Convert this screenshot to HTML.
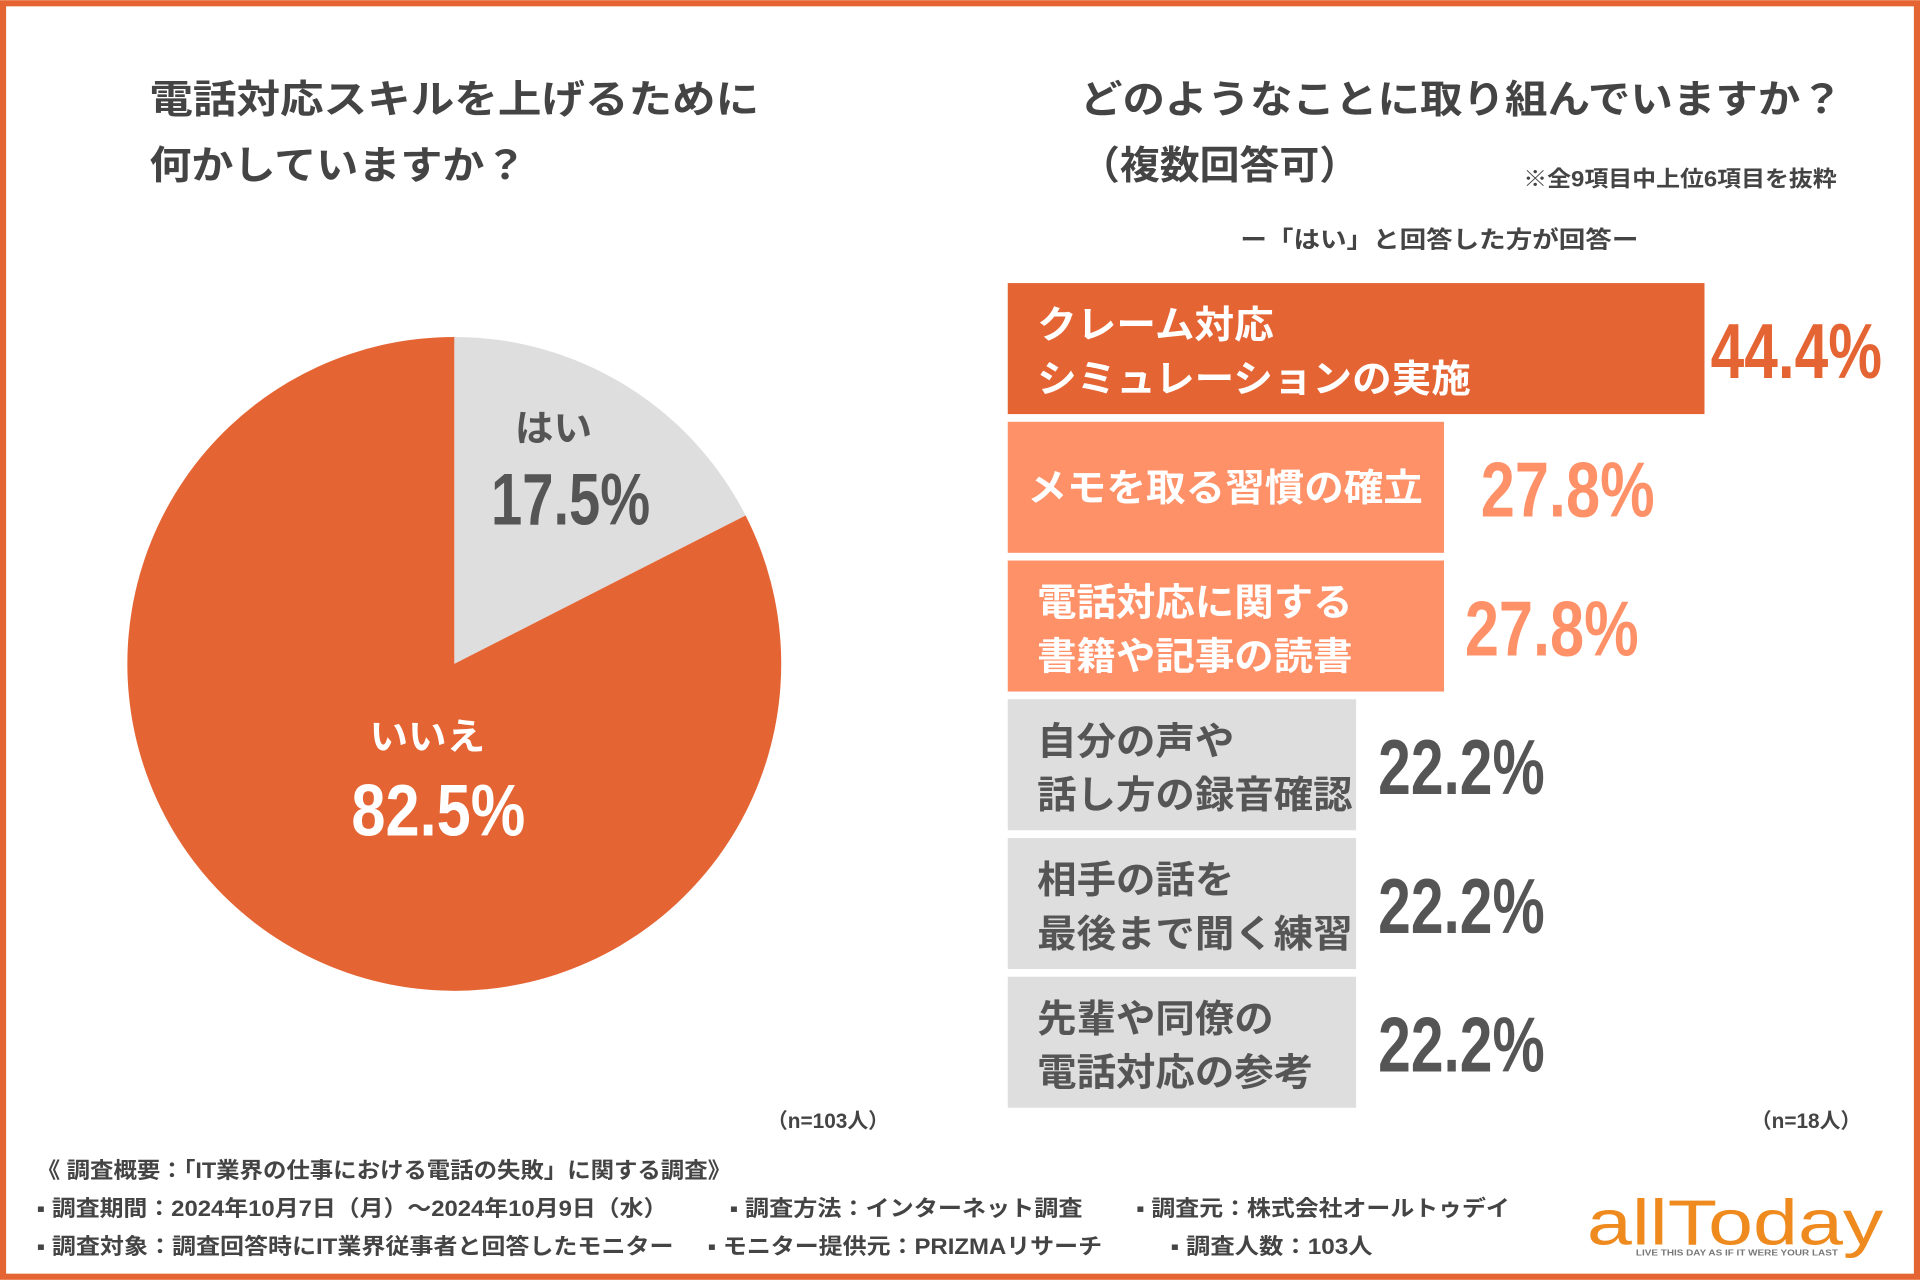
<!DOCTYPE html>
<html><head><meta charset="utf-8">
<style>
html,body{margin:0;padding:0;background:#fff;}
svg{display:block;}
text{font-family:"Liberation Sans","Noto Sans CJK JP",sans-serif;font-weight:bold;}
</style></head>
<body>
<svg id="chart" width="1920" height="1280" viewBox="0 0 1568 1045" xmlns="http://www.w3.org/2000/svg">
<rect x="2.5" y="2.5" width="1563" height="1040" fill="#fff" stroke="#E56433" stroke-width="5"/>
<g fill="#444" font-size="32">
<text x="122" y="92" textLength="498" lengthAdjust="spacingAndGlyphs">電話対応スキルを上げるために</text>
<text x="122" y="146" textLength="308" lengthAdjust="spacingAndGlyphs">何かしていますか？</text>
</g>
<g fill="#444" font-size="32">
<text x="882" y="92" textLength="623" lengthAdjust="spacingAndGlyphs">どのようなことに取り組んでいますか？</text>
<text x="882" y="146" textLength="228" lengthAdjust="spacingAndGlyphs">（複数回答可）</text>
</g>
<text x="1244" y="152" font-size="18" fill="#444" textLength="256" lengthAdjust="spacingAndGlyphs">※全9項目中上位6項目を抜粋</text>
<text x="1013" y="202" font-size="19" fill="#444" textLength="325" lengthAdjust="spacingAndGlyphs">ー「はい」と回答した方が回答ー</text>
<g id="pie"></g>
<g id="bars"></g>
<text x="726" y="921" font-size="17" fill="#444" text-anchor="end">（n=103人）</text>
<text x="1520" y="921" font-size="17" fill="#444" text-anchor="end">（n=18人）</text>
<g fill="#444" font-size="18">
<text x="30" y="962" textLength="567" lengthAdjust="spacingAndGlyphs">《 調査概要：「IT業界の仕事における電話の失敗」に関する調査》</text>
<text x="30" y="993" textLength="515" lengthAdjust="spacingAndGlyphs">▪ 調査期間：2024年10月7日（月）～2024年10月9日（水）</text>
<text x="596" y="993" textLength="288" lengthAdjust="spacingAndGlyphs">▪ 調査方法：インターネット調査</text>
<text x="928" y="993" textLength="305" lengthAdjust="spacingAndGlyphs">▪ 調査元：株式会社オールトゥデイ</text>
<text x="30" y="1024" textLength="520" lengthAdjust="spacingAndGlyphs">▪ 調査対象：調査回答時にIT業界従事者と回答したモニター</text>
<text x="578" y="1024" textLength="322" lengthAdjust="spacingAndGlyphs">▪ モニター提供元：PRIZMAリサーチ</text>
<text x="956" y="1024" textLength="165" lengthAdjust="spacingAndGlyphs">▪ 調査人数：103人</text>
</g>
<g>
<text x="1296" y="1016" font-size="52" fill="#EE8A1E" textLength="242" lengthAdjust="spacingAndGlyphs" style="font-weight:normal">allToday</text>
<text x="1336" y="1025" font-size="7" fill="#777" textLength="165" lengthAdjust="spacingAndGlyphs">LIVE THIS DAY AS IF IT WERE YOUR LAST</text>
</g>
</svg>
<script>
const pieLabels=["はい","いいえ"];
const pieValues=[17.5,82.5];
const barLabels=[["クレーム対応","シミュレーションの実施"],["メモを取る習慣の確立"],["電話対応に関する","書籍や記事の読書"],["自分の声や","話し方の録音確認"],["相手の話を","最後まで聞く練習"],["先輩や同僚の","電話対応の参考"]];
const barValues=[44.4,27.8,27.8,22.2,22.2,22.2];

const NS="http://www.w3.org/2000/svg";
function mk(tag,attrs,parent){const e=document.createElementNS(NS,tag);for(const k in attrs)e.setAttribute(k,attrs[k]);parent.appendChild(e);return e;}
const charW=32.2;

// pie
const pie=document.getElementById('pie');
const cx=371,cy=542,r=267;
const pieColors=["#DEDEDE","#E56433"];
const total=pieValues.reduce((a,b)=>a+b,0);
function pt(a,rr){return [cx+rr*Math.sin(a),cy-rr*Math.cos(a)];}
let a0=0;
pieValues.forEach((v,i)=>{
  const a1=a0+v/total*2*Math.PI;
  const p0=pt(a0,r),p1=pt(a1,r);
  const large=(a1-a0)>Math.PI?1:0;
  const s=mk('path',{d:`M${cx},${cy} L${p0[0]},${p0[1]} A${r},${r} 0 ${large} 1 ${p1[0]},${p1[1]} Z`,fill:pieColors[i]},pie);
  
  
  a0=a1;
});
const lblPos=[[466,360,418,452],[358,612,672,349]];
pieValues.forEach((v,i)=>{
  const col=i===0?"#555":"#fff";
  const t1=mk('text',{x:lblPos[i][3],y:lblPos[i][1],'font-size':30,fill:col,'text-anchor':'middle',textLength:pieLabels[i].length*31.5,lengthAdjust:'spacingAndGlyphs'},pie);
  t1.textContent=pieLabels[i];
  
  
  const t2=mk('text',{x:lblPos[i][0],y:lblPos[i][2]+10,'font-size':60,fill:col,'text-anchor':'middle',textLength:i===0?130:142,lengthAdjust:'spacingAndGlyphs'},pie);
  t2.textContent=v.toFixed(1)+'%';
  
  
});

// bars
const bars=document.getElementById('bars');
const bx=823,by0=231,step=113.3,bh=107;
const pxPer=569/44.4;
function xScale(v){return v*pxPer;}
barValues.forEach((v,i)=>{
  const y=by0+i*step;
  const w=xScale(v);
  const fill=i===0?"#E56433":(i<3?"#FF9168":"#DEDEDE");
  const tcol=i<3?"#fff":"#555";
  const vcol=i===0?"#E56433":(i<3?"#FF9168":"#555");
  const b=mk('rect',{x:bx,y:y,width:w,height:bh,fill:fill},bars);
  
  
  const lines=barLabels[i];
  lines.forEach((ln,j)=>{
    const yy=lines.length===1?y+bh/2+11:y+45+j*44;
    const t=mk('text',{x:bx+(lines.length===1?16:24),y:yy,'font-size':31,fill:tcol,textLength:ln.length*(lines.length===1?32.3:charW),lengthAdjust:'spacingAndGlyphs'},bars);
    t.textContent=ln;
    
    
  });
  const vt=mk('text',{x:bx+w+(i===0?5:(i===1?30:(i===2?17:18))),y:y+bh/2+24,'font-size':64,fill:vcol,textLength:i===0?140:(i<3?142:136),lengthAdjust:'spacingAndGlyphs'},bars);
  vt.textContent=v.toFixed(1)+'%';
  
  
});
</script>
</body></html>
